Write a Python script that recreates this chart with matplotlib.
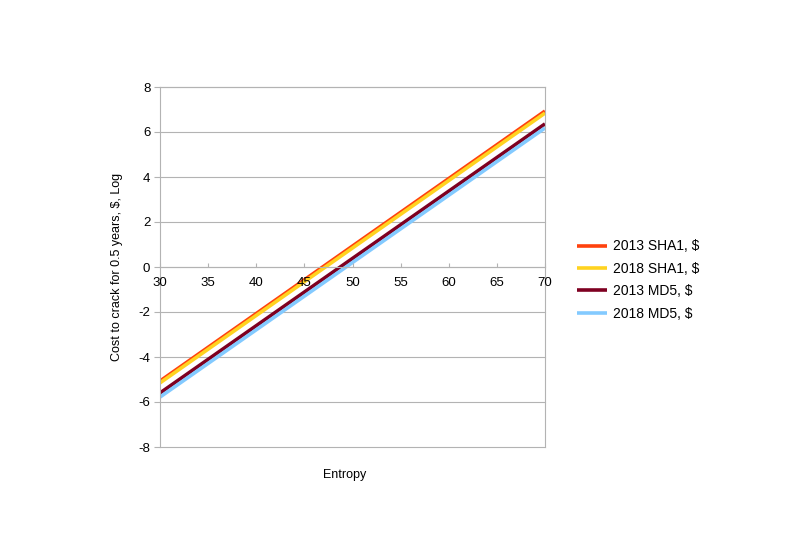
import numpy as np
import matplotlib.pyplot as plt

plt.rcParams['font.family'] = ['Liberation Sans', 'DejaVu Sans']
plt.rcParams['axes.unicode_minus'] = False

entropy = [30, 70]
sha1_2013 = [-5.07, 6.93]
sha1_2018 = [-5.15, 6.84]
md5_2013 = [-5.6, 6.36]
md5_2018 = [-5.78, 6.18]

series = [
    ('2013 SHA1, $', sha1_2013, '#ff420e'),
    ('2018 SHA1, $', sha1_2018, '#ffd320'),
    ('2013 MD5, $', md5_2013, '#7e0021'),
    ('2018 MD5, $', md5_2018, '#83caff'),
]

fig = plt.figure(figsize=(7.94, 5.59), dpi=100)
ax = fig.add_axes([160 / 794, 1 - 447 / 559, 385 / 794, 360 / 559])

for label, vals, color in series:
    ax.plot(entropy, vals, color=color, lw=2.6, label=label, solid_capstyle='butt', zorder=2)

ax.set_xlim(30, 70)
ax.set_ylim(-8, 8)
ax.set_xticks(np.arange(30, 71, 5))
ax.set_yticks(np.arange(-8, 9, 2))
# grid behind the lines, tick labels above them
for yv in ax.get_yticks():
    ax.axhline(yv, color='#b3b3b3', lw=0.8, zorder=1, clip_on=False)
ax.set_axisbelow(False)

for side in ['left', 'right', 'top', 'bottom']:
    ax.spines[side].set_color('#b3b3b3')
    ax.spines[side].set_linewidth(0.8)
ax.spines['bottom'].set_position(('data', 0))
ax.tick_params(axis='both', colors='#b3b3b3', labelcolor='black', labelsize=9.5, width=0.8)
ax.tick_params(axis='y', length=4, pad=3)
ax.tick_params(axis='x', direction='in', length=3, pad=7.5)

fig.text(117 / 794, 1 - 267 / 559, 'Cost to crack for 0.5 years, $, Log', rotation=90,
         ha='center', va='center', fontsize=9)
fig.text(345 / 794, 1 - 475 / 559, 'Entropy', ha='center', va='center', fontsize=9)

ax.legend(loc='center left', bbox_to_anchor=(564 / 794, 1 - 280 / 559), bbox_transform=fig.transFigure,
          frameon=False, fontsize=10, handlelength=2.2, labelspacing=0.6, handletextpad=0.4)

fig.savefig('out.png', dpi=100)
